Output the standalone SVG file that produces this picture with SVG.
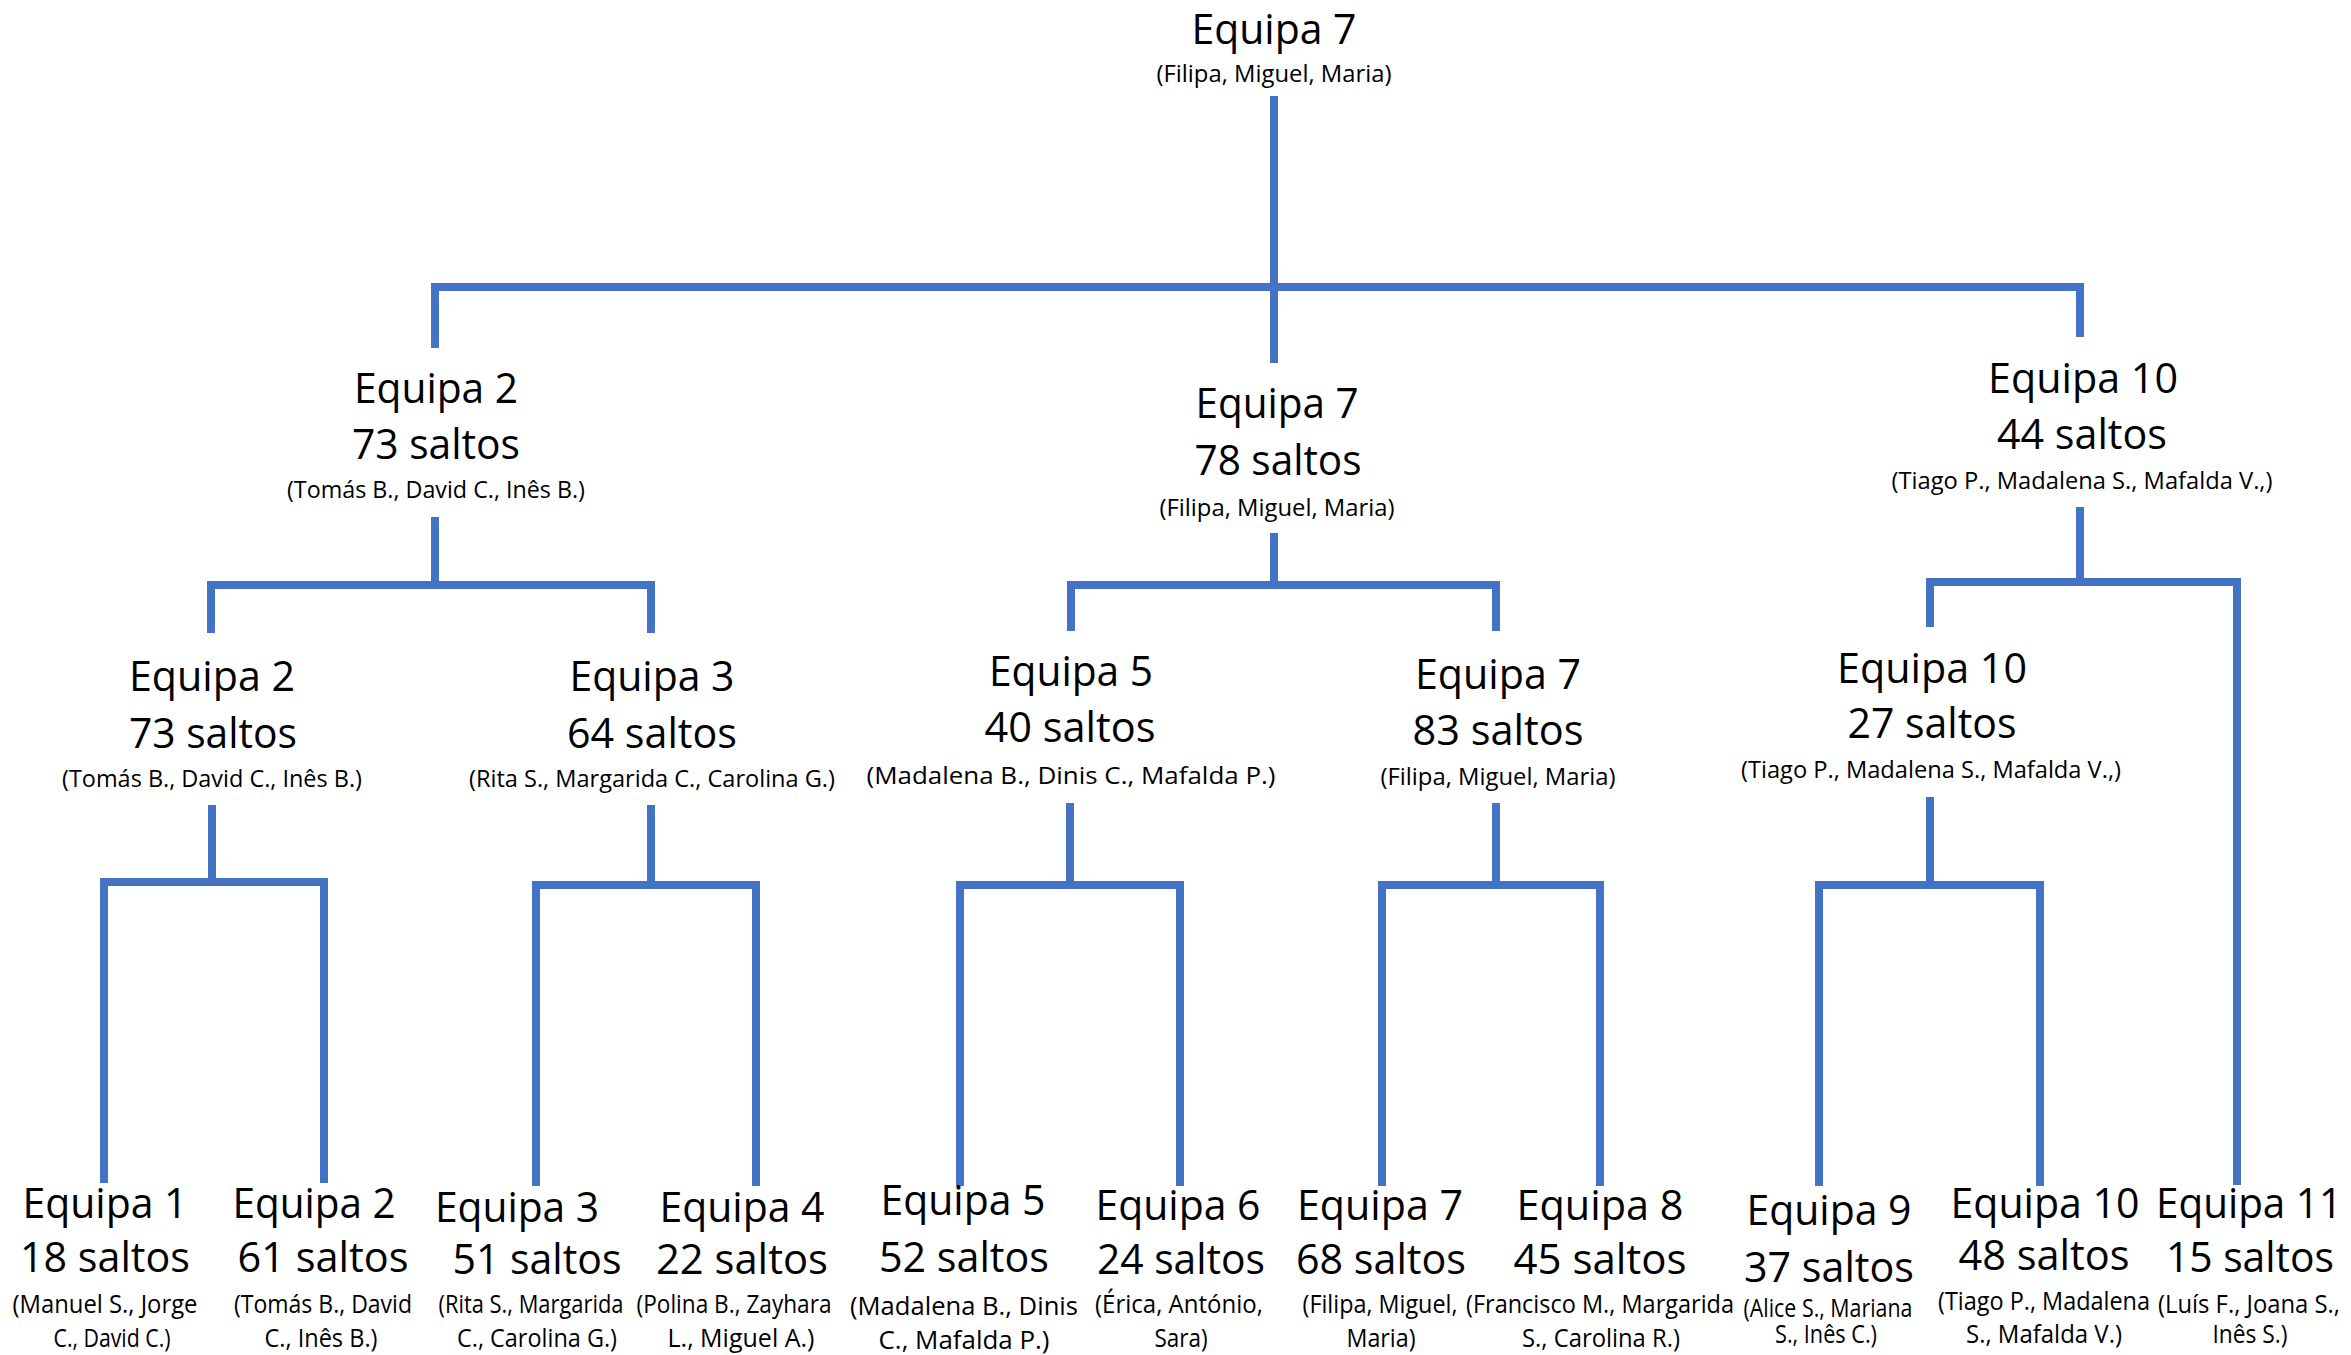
<svg xmlns="http://www.w3.org/2000/svg" width="2351" height="1355" viewBox="0 0 2351 1355">
<style>
text{font-family:"Open Sans","Liberation Sans",sans-serif;fill:#000;text-anchor:middle}
.t{font-size:42px}
.s{font-size:24px}
.ls{font-size:25px}
.c{fill:none;stroke:#4472C4;stroke-width:8;stroke-linejoin:miter}
</style>
<rect width="2351" height="1355" fill="#fff"/>
<g id="connectors">
<path class="c" d="M1274 96V363"/>
<path class="c" d="M435 348V287H2080V337"/>
<path class="c" d="M435 517V585"/>
<path class="c" d="M211 633V585H651V633"/>
<path class="c" d="M1274 533V585"/>
<path class="c" d="M1071 631V585H1496V631"/>
<path class="c" d="M2080 507V582"/>
<path class="c" d="M1930 627V582H2237V1185"/>
<path class="c" d="M212 805V882"/>
<path class="c" d="M104 1183V882H324V1183"/>
<path class="c" d="M651 805V885"/>
<path class="c" d="M536 1186V885H756V1186"/>
<path class="c" d="M1070 803V885"/>
<path class="c" d="M960 1186V885H1180V1186"/>
<path class="c" d="M1496 803V885"/>
<path class="c" d="M1382 1186V885H1600V1186"/>
<path class="c" d="M1930 797V885"/>
<path class="c" d="M1819 1186V885H2040V1186"/>
</g>
<g id="root">
<text class="t" x="1274" y="44" textLength="165" lengthAdjust="spacingAndGlyphs">Equipa 7</text>
<text class="s" x="1274" y="82" textLength="235" lengthAdjust="spacingAndGlyphs">(Filipa, Miguel, Maria)</text>
</g>
<g id="l1-equipa2">
<text class="t" x="436" y="403" textLength="164" lengthAdjust="spacingAndGlyphs">Equipa 2</text>
<text class="t" x="436" y="459" textLength="168" lengthAdjust="spacingAndGlyphs">73 saltos</text>
<text class="s" x="436" y="498" textLength="298" lengthAdjust="spacingAndGlyphs">(Tomás B., David C., Inês B.)</text>
</g>
<g id="l1-equipa7">
<text class="t" x="1277" y="418" textLength="163" lengthAdjust="spacingAndGlyphs">Equipa 7</text>
<text class="t" x="1278" y="475" textLength="167" lengthAdjust="spacingAndGlyphs">78 saltos</text>
<text class="s" x="1277" y="516" textLength="235" lengthAdjust="spacingAndGlyphs">(Filipa, Miguel, Maria)</text>
</g>
<g id="l1-equipa10">
<text class="t" x="2083" y="393" textLength="190" lengthAdjust="spacingAndGlyphs">Equipa 10</text>
<text class="t" x="2082" y="449" textLength="170" lengthAdjust="spacingAndGlyphs">44 saltos</text>
<text class="s" x="2082" y="489" textLength="381" lengthAdjust="spacingAndGlyphs">(Tiago P., Madalena S., Mafalda V.,)</text>
</g>
<g id="l2-equipa2">
<text class="t" x="212" y="691" textLength="166" lengthAdjust="spacingAndGlyphs">Equipa 2</text>
<text class="t" x="213" y="748" textLength="168" lengthAdjust="spacingAndGlyphs">73 saltos</text>
<text class="s" x="212" y="787" textLength="300" lengthAdjust="spacingAndGlyphs">(Tomás B., David C., Inês B.)</text>
</g>
<g id="l2-equipa3">
<text class="t" x="652" y="691" textLength="165" lengthAdjust="spacingAndGlyphs">Equipa 3</text>
<text class="t" x="652" y="748" textLength="170" lengthAdjust="spacingAndGlyphs">64 saltos</text>
<text class="s" x="652" y="787" textLength="366" lengthAdjust="spacingAndGlyphs">(Rita S., Margarida C., Carolina G.)</text>
</g>
<g id="l2-equipa5">
<text class="t" x="1071" y="686" textLength="164" lengthAdjust="spacingAndGlyphs">Equipa 5</text>
<text class="t" x="1070" y="742" textLength="171" lengthAdjust="spacingAndGlyphs">40 saltos</text>
<text class="s" x="1071" y="784" textLength="409" lengthAdjust="spacingAndGlyphs">(Madalena B., Dinis C., Mafalda P.)</text>
</g>
<g id="l2-equipa7">
<text class="t" x="1498" y="689" textLength="166" lengthAdjust="spacingAndGlyphs">Equipa 7</text>
<text class="t" x="1498" y="745" textLength="171" lengthAdjust="spacingAndGlyphs">83 saltos</text>
<text class="s" x="1498" y="785" textLength="235" lengthAdjust="spacingAndGlyphs">(Filipa, Miguel, Maria)</text>
</g>
<g id="l2-equipa10">
<text class="t" x="1932" y="683" textLength="190" lengthAdjust="spacingAndGlyphs">Equipa 10</text>
<text class="t" x="1932" y="738" textLength="169" lengthAdjust="spacingAndGlyphs">27 saltos</text>
<text class="s" x="1931" y="778" textLength="380" lengthAdjust="spacingAndGlyphs">(Tiago P., Madalena S., Mafalda V.,)</text>
</g>
<g id="leaf-equipa1">
<text class="t" x="105" y="1218" textLength="165" lengthAdjust="spacingAndGlyphs">Equipa 1</text>
<text class="t" x="105" y="1272" textLength="170" lengthAdjust="spacingAndGlyphs">18 saltos</text>
<text class="ls" x="105" y="1313" textLength="185" lengthAdjust="spacingAndGlyphs">(Manuel S., Jorge</text>
<text class="ls" x="112" y="1347" textLength="117" lengthAdjust="spacingAndGlyphs">C., David C.)</text>
</g>
<g id="leaf-equipa2">
<text class="t" x="314" y="1218" textLength="163" lengthAdjust="spacingAndGlyphs">Equipa 2</text>
<text class="t" x="323" y="1272" textLength="171" lengthAdjust="spacingAndGlyphs">61 saltos</text>
<text class="ls" x="323" y="1313" textLength="178" lengthAdjust="spacingAndGlyphs">(Tomás B., David</text>
<text class="ls" x="321" y="1347" textLength="113" lengthAdjust="spacingAndGlyphs">C., Inês B.)</text>
</g>
<g id="leaf-equipa3">
<text class="t" x="517" y="1222" textLength="164" lengthAdjust="spacingAndGlyphs">Equipa 3</text>
<text class="t" x="537" y="1274" textLength="169" lengthAdjust="spacingAndGlyphs">51 saltos</text>
<text class="ls" x="531" y="1313" textLength="185" lengthAdjust="spacingAndGlyphs">(Rita S., Margarida</text>
<text class="ls" x="537" y="1347" textLength="160" lengthAdjust="spacingAndGlyphs">C., Carolina G.)</text>
</g>
<g id="leaf-equipa4">
<text class="t" x="742" y="1222" textLength="165" lengthAdjust="spacingAndGlyphs">Equipa 4</text>
<text class="t" x="742" y="1274" textLength="172" lengthAdjust="spacingAndGlyphs">22 saltos</text>
<text class="ls" x="734" y="1313" textLength="195" lengthAdjust="spacingAndGlyphs">(Polina B., Zayhara</text>
<text class="ls" x="741" y="1347" textLength="147" lengthAdjust="spacingAndGlyphs">L., Miguel A.)</text>
</g>
<g id="leaf-equipa5">
<text class="t" x="963" y="1215" textLength="165" lengthAdjust="spacingAndGlyphs">Equipa 5</text>
<text class="t" x="964" y="1272" textLength="170" lengthAdjust="spacingAndGlyphs">52 saltos</text>
<text class="ls" x="964" y="1315" textLength="228" lengthAdjust="spacingAndGlyphs">(Madalena B., Dinis</text>
<text class="ls" x="964" y="1349" textLength="171" lengthAdjust="spacingAndGlyphs">C., Mafalda P.)</text>
</g>
<g id="leaf-equipa6">
<text class="t" x="1178" y="1220" textLength="165" lengthAdjust="spacingAndGlyphs">Equipa 6</text>
<text class="t" x="1181" y="1274" textLength="168" lengthAdjust="spacingAndGlyphs">24 saltos</text>
<text class="ls" x="1179" y="1313" textLength="168" lengthAdjust="spacingAndGlyphs">(Érica, António,</text>
<text class="ls" x="1181" y="1347" textLength="53" lengthAdjust="spacingAndGlyphs">Sara)</text>
</g>
<g id="leaf-equipa7">
<text class="t" x="1380" y="1220" textLength="166" lengthAdjust="spacingAndGlyphs">Equipa 7</text>
<text class="t" x="1381" y="1274" textLength="170" lengthAdjust="spacingAndGlyphs">68 saltos</text>
<text class="ls" x="1380" y="1313" textLength="155" lengthAdjust="spacingAndGlyphs">(Filipa, Miguel,</text>
<text class="ls" x="1381" y="1347" textLength="69" lengthAdjust="spacingAndGlyphs">Maria)</text>
</g>
<g id="leaf-equipa8">
<text class="t" x="1600" y="1220" textLength="167" lengthAdjust="spacingAndGlyphs">Equipa 8</text>
<text class="t" x="1600" y="1274" textLength="173" lengthAdjust="spacingAndGlyphs">45 saltos</text>
<text class="ls" x="1600" y="1313" textLength="268" lengthAdjust="spacingAndGlyphs">(Francisco M., Margarida</text>
<text class="ls" x="1601" y="1347" textLength="158" lengthAdjust="spacingAndGlyphs">S., Carolina R.)</text>
</g>
<g id="leaf-equipa9">
<text class="t" x="1829" y="1225" textLength="165" lengthAdjust="spacingAndGlyphs">Equipa 9</text>
<text class="t" x="1829" y="1282" textLength="170" lengthAdjust="spacingAndGlyphs">37 saltos</text>
<text class="ls" x="1828" y="1317" textLength="169" lengthAdjust="spacingAndGlyphs">(Alice S., Mariana</text>
<text class="ls" x="1826" y="1343" textLength="102" lengthAdjust="spacingAndGlyphs">S., Inês C.)</text>
</g>
<g id="leaf-equipa10">
<text class="t" x="2045" y="1218" textLength="189" lengthAdjust="spacingAndGlyphs">Equipa 10</text>
<text class="t" x="2044" y="1270" textLength="171" lengthAdjust="spacingAndGlyphs">48 saltos</text>
<text class="ls" x="2044" y="1310" textLength="212" lengthAdjust="spacingAndGlyphs">(Tiago P., Madalena</text>
<text class="ls" x="2044" y="1343" textLength="156" lengthAdjust="spacingAndGlyphs">S., Mafalda V.)</text>
</g>
<g id="leaf-equipa11">
<text class="t" x="2249" y="1218" textLength="186" lengthAdjust="spacingAndGlyphs">Equipa 11</text>
<text class="t" x="2250" y="1272" textLength="168" lengthAdjust="spacingAndGlyphs">15 saltos</text>
<text class="ls" x="2249" y="1313" textLength="182" lengthAdjust="spacingAndGlyphs">(Luís F., Joana S.,</text>
<text class="ls" x="2250" y="1343" textLength="75" lengthAdjust="spacingAndGlyphs">Inês S.)</text>
</g>
</svg>
